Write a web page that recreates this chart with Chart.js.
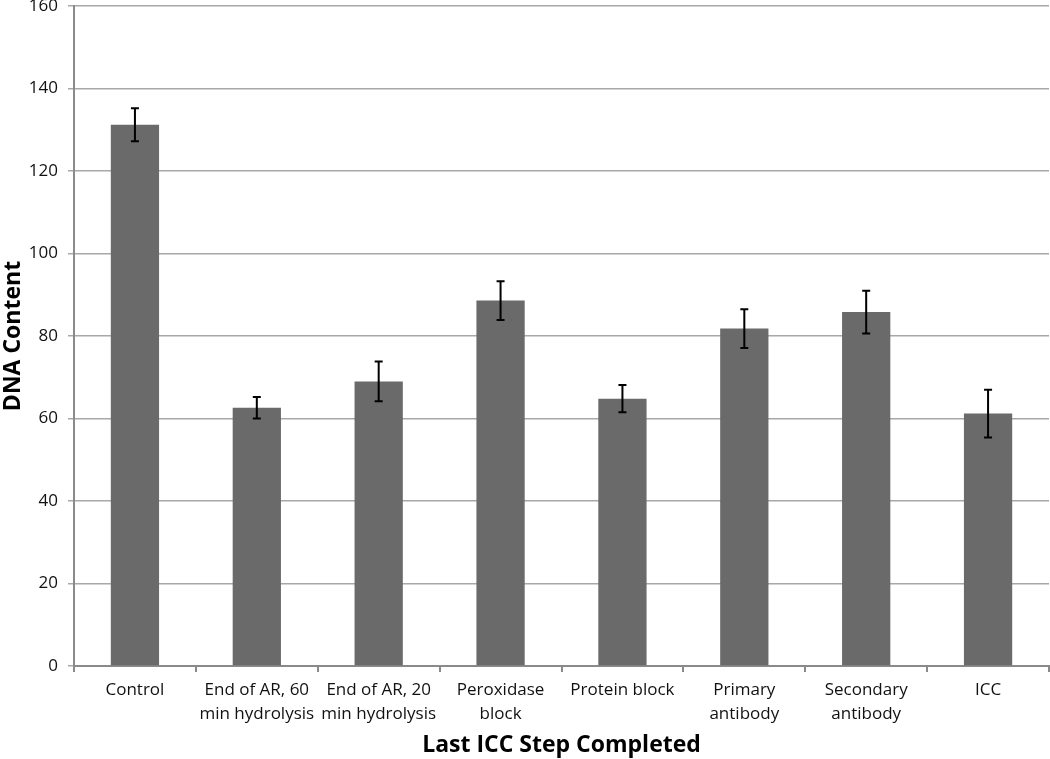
<!DOCTYPE html>
<html>
<head>
<meta charset="utf-8">
<script src="https://cdn.jsdelivr.net/npm/chart.js@4.4.0/dist/chart.umd.min.js"></script>
<style>
html,body{margin:0;padding:0;background:#fff;}
canvas{display:block;}
</style>
</head>
<body>
<canvas id="c" width="1050" height="759"></canvas>
<script>
const categories = [
  "Control",
  ["End of AR, 60", "min hydrolysis"],
  ["End of AR, 20", "min hydrolysis"],
  ["Peroxidase", "block"],
  "Protein block",
  ["Primary", "antibody"],
  ["Secondary", "antibody"],
  "ICC"
];
const dnaContent = [131.2, 62.6, 69.0, 88.6, 64.8, 81.8, 85.8, 61.2];
const errorValues = [4.0, 2.6, 4.8, 4.7, 3.3, 4.7, 5.2, 5.8];
const yTicks = [0, 20, 40, 60, 80, 100, 120, 140, 160];

const FONT = "'Open Sans', 'Liberation Sans', sans-serif";

const errorBarPlugin = {
  id: 'errorBars',
  afterDatasetsDraw(chart) {
    const ctx = chart.ctx;
    const meta = chart.getDatasetMeta(0);
    const y = chart.scales.y;
    ctx.save();
    ctx.strokeStyle = '#000';
    ctx.lineWidth = 2;
    meta.data.forEach((bar, i) => {
      const v = dnaContent[i], e = errorValues[i];
      const yt = y.getPixelForValue(v + e);
      const yb = y.getPixelForValue(v - e);
      const x = bar.x;
      ctx.beginPath();
      ctx.moveTo(x, yt); ctx.lineTo(x, yb);
      ctx.moveTo(x - 4, yt); ctx.lineTo(x + 4, yt);
      ctx.moveTo(x - 4, yb); ctx.lineTo(x + 4, yb);
      ctx.stroke();
    });
    ctx.restore();
  }
};

new Chart(document.getElementById('c'), {
  type: 'bar',
  data: {
    labels: categories,
    datasets: [{
      data: dnaContent,
      backgroundColor: '#6a6a6a',
      borderWidth: 0,
      barPercentage: 0.396,
      categoryPercentage: 1.0
    }]
  },
  options: {
    responsive: false,
    animation: false,
    devicePixelRatio: 1,
    layout: { padding: { top: 6, right: 1, bottom: 0, left: 0 } },
    plugins: { legend: { display: false }, tooltip: { enabled: false } },
    scales: {
      x: {
        offset: true,
        grid: { offset: true, drawOnChartArea: false, drawTicks: true, tickLength: 6, color: '#8a8a8a', lineWidth: 2 },
        border: { color: '#8a8a8a', width: 2 },
        ticks: { color: '#111', font: { family: FONT, size: 17, lineHeight: 1.4 }, maxRotation: 0, autoSkip: false, padding: 6 },
        title: { display: true, text: 'Last ICC Step Completed', color: '#000', font: { family: FONT, size: 23, weight: 'bold' }, padding: { top: 4, bottom: 0 } },
        afterFit(s) { s.height = 93; s.paddingLeft = 0; s.paddingRight = 0; }
      },
      y: {
        min: 0, max: 160,
        afterBuildTicks(s) { s.ticks = yTicks.map(v => ({ value: v })); },
        grid: { color: '#a8a8a8', lineWidth: 1.5, tickLength: 6 },
        border: { color: '#8a8a8a', width: 2 },
        ticks: { color: '#111', font: { family: FONT, size: 17 }, padding: 10 },
        title: { display: true, text: 'DNA Content', color: '#000', font: { family: FONT, size: 23, weight: 'bold' }, padding: { top: 0, bottom: 4 } },
        afterFit(s) { s.width = 74; s.paddingTop = 0; s.paddingBottom = 0; }
      }
    }
  },
  plugins: [errorBarPlugin]
});
</script>
</body>
</html>
